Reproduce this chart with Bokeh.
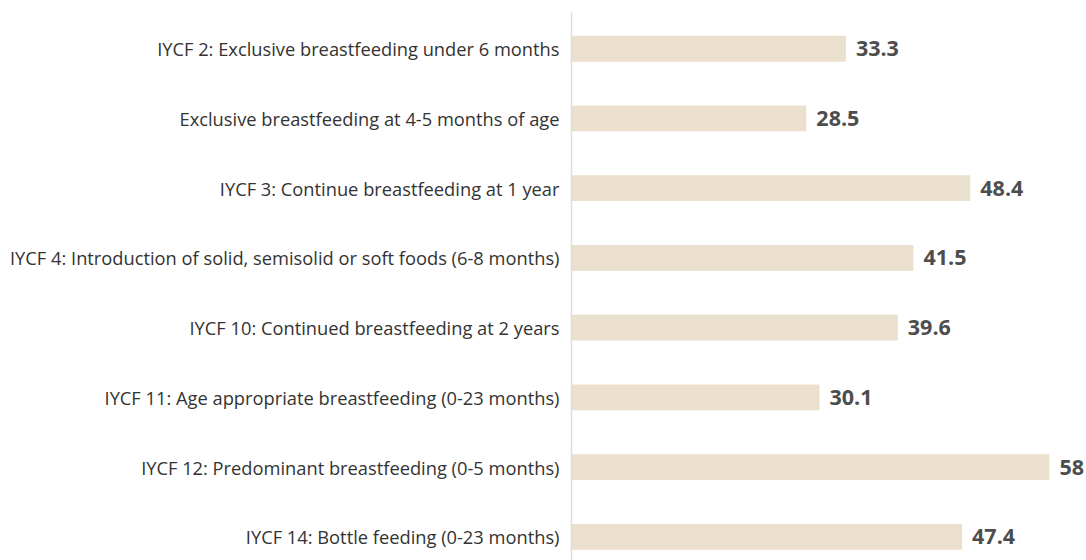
from bokeh.plotting import figure
from bokeh.models import ColumnDataSource, Range1d, FixedTicker
from bokeh.core.properties import value
from bokeh.embed import file_html
from bokeh.resources import INLINE

categories = [
    "IYCF 2: Exclusive breastfeeding under 6 months",
    "Exclusive breastfeeding at 4-5 months of age",
    "IYCF 3: Continue breastfeeding at 1 year",
    "IYCF 4: Introduction of solid, semisolid or soft foods (6-8 months)",
    "IYCF 10: Continued breastfeeding at 2 years",
    "IYCF 11: Age appropriate breastfeeding (0-23 months)",
    "IYCF 12: Predominant breastfeeding (0-5 months)",
    "IYCF 14: Bottle feeding (0-23 months)",
]
values = [33.3, 28.5, 48.4, 41.5, 39.6, 30.1, 58, 47.4]
value_labels = ["33.3", "28.5", "48.4", "41.5", "39.6", "30.1", "58", "47.4"]

pos = list(range(len(categories)))
src = ColumnDataSource(dict(y=pos, v=values, lab=value_labels))

p = figure(
    width=1086, height=560,
    x_range=Range1d(0, 62.5), y_range=Range1d(7.34, -0.52),
    output_backend="svg", toolbar_location=None,
    min_border_left=571, min_border_right=0, min_border_top=12, min_border_bottom=0,
)
p.hbar(y="y", left=0, right="v", height=0.37, source=src,
       fill_color="#EBDFCD", line_color=None)
p.text(x="v", y="y", text="lab", source=src, x_offset=10,
       text_align="left", text_baseline="middle",
       text_font=value("Open Sans"), text_font_style="bold",
       text_font_size="21.5px", text_color="#4D4D4D")

p.xaxis.visible = False
p.yaxis.ticker = FixedTicker(ticks=pos)
p.yaxis.major_label_overrides = {i: c for i, c in zip(pos, categories)}
p.yaxis.major_label_text_font = "Open Sans"
p.yaxis.major_label_text_font_size = "18.3px"
p.yaxis.major_label_text_color = "#333333"
p.yaxis.major_label_standoff = 6
p.yaxis.major_tick_line_color = None
p.yaxis.minor_tick_line_color = None
p.yaxis.axis_line_color = "#DDDDDD"
p.yaxis.axis_line_width = 1.5
p.grid.visible = False
p.outline_line_color = None

open("out.html", "w").write(file_html(p, INLINE))
